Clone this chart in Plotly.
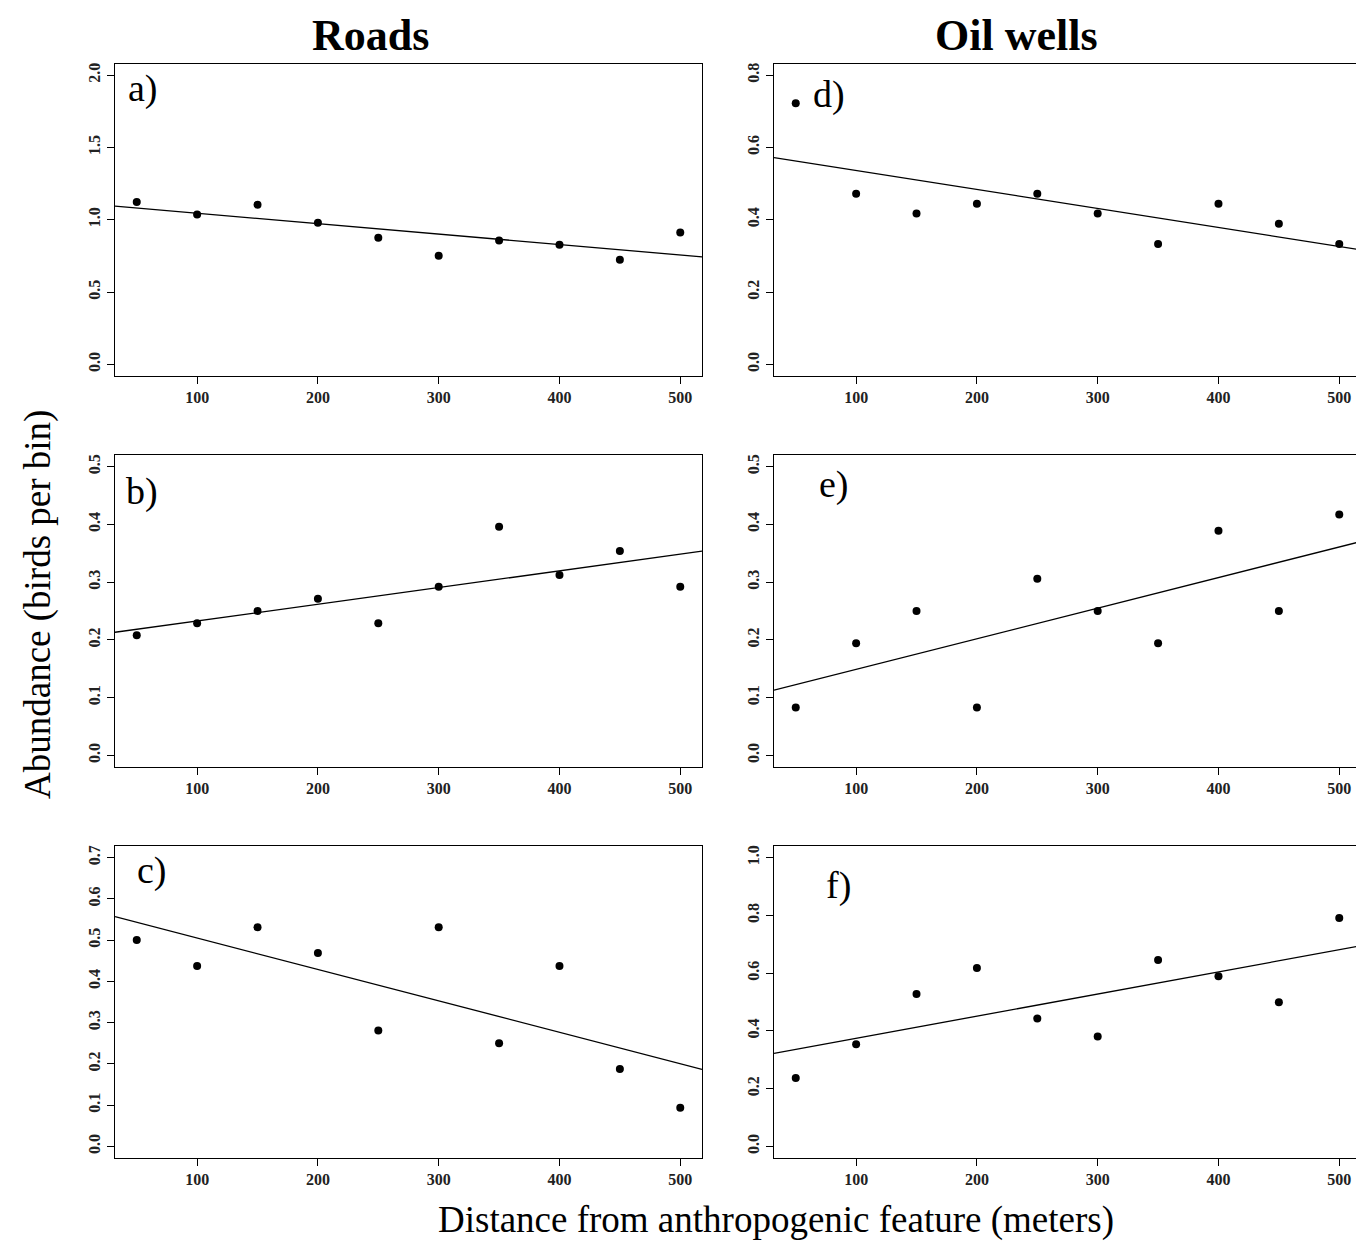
import numpy as np
import plotly.graph_objects as go

W, H = 1364, 1249

distance = [50, 100, 150, 200, 250, 300, 350, 400, 450, 500]

roads_a = [1.122, 1.037, 1.104, 0.979, 0.876, 0.751, 0.857, 0.827, 0.724, 0.912]
roads_b = [0.208, 0.229, 0.250, 0.271, 0.229, 0.292, 0.396, 0.3125, 0.354, 0.292]
roads_c = [0.500, 0.4375, 0.531, 0.469, 0.281, 0.531, 0.250, 0.4375, 0.1875, 0.094]
wells_d = [0.722, 0.472, 0.417, 0.444, 0.472, 0.417, 0.333, 0.444, 0.389, 0.333]
wells_e = [0.083, 0.194, 0.250, 0.083, 0.306, 0.250, 0.194, 0.389, 0.250, 0.417]
wells_f = [0.237, 0.354, 0.528, 0.618, 0.443, 0.381, 0.645, 0.589, 0.499, 0.791]

panel_labels = ["a)", "b)", "c)", "d)", "e)", "f)"]
ylims = [2.0, 0.5, 0.7, 0.8, 0.5, 1.0]
ydticks = [0.5, 0.1, 0.1, 0.2, 0.1, 0.2]
x_ticks = [100, 200, 300, 400, 500]
column_titles = ["Roads", "Oil wells"]
y_title = "Abundance (birds per bin)"
x_title = "Distance from anthropogenic feature (meters)"

series = [roads_a, roads_b, roads_c, wells_d, wells_e, wells_f]

# layout geometry (pixels)
col_x = [(107, 694), (766, 1353)]
row_y = [(55.5, 368), (447, 759), (838, 1150)]
label_pos = [(135, 80), (134, 483), (144, 862), (821, 86), (826, 476), (830, 877)]

def px_x(p):
    return p / W

def px_y(p):
    return 1 - p / H

xr0 = min(distance) - 0.04 * (max(distance) - min(distance))
xr1 = max(distance) + 0.04 * (max(distance) - min(distance))

FONT = "Liberation Serif, Times New Roman, serif"

fig = go.Figure()
layout = {}
annotations = []

for i, ys in enumerate(series):
    col = i // 3
    row = i % 3
    n = i + 1
    xa = "x" if n == 1 else f"x{n}"
    ya = "y" if n == 1 else f"y{n}"
    fig.add_trace(go.Scatter(
        x=distance, y=ys, mode="markers",
        marker=dict(color="black", size=8),
        xaxis=xa, yaxis=ya, showlegend=False))
    slope, icpt = np.polyfit(distance, ys, 1)
    lx = [xr0, xr1]
    ly = [icpt + slope * v for v in lx]
    fig.add_trace(go.Scatter(
        x=lx, y=ly, mode="lines",
        line=dict(color="black", width=1.3),
        xaxis=xa, yaxis=ya, showlegend=False))

    ylim = ylims[i]
    yr = [-0.04 * ylim, ylim * 1.04]
    yt = list(np.round(np.arange(0, ylim + 1e-9, ydticks[i]), 2))
    common = dict(showline=True, mirror=True, linecolor="black", linewidth=1.3,
                  ticks="outside", ticklen=7, tickwidth=1.2, tickcolor="black",
                  showgrid=False, zeroline=False,
                  tickfont=dict(family=FONT, size=16, color="#222", weight="bold"))
    layout["xaxis" if n == 1 else f"xaxis{n}"] = dict(
        domain=[px_x(col_x[col][0]), px_x(col_x[col][1])],
        anchor=ya, range=[xr0, xr1], tickvals=x_ticks,
        ticktext=[str(t) for t in x_ticks], **common)
    layout["yaxis" if n == 1 else f"yaxis{n}"] = dict(
        domain=[px_y(row_y[row][1]), px_y(row_y[row][0])],
        anchor=xa, range=yr, tickvals=yt,
        ticktext=[f"{t:.1f}" for t in yt], tickangle=-90, **common)

    lx_, ly_ = label_pos[i]
    annotations.append(dict(
        x=px_x(lx_), y=px_y(ly_), xref="paper", yref="paper",
        text=panel_labels[i], showarrow=False, xanchor="center", yanchor="middle",
        font=dict(family=FONT, size=38, color="black")))

annotations.append(dict(x=px_x(362), y=px_y(28), xref="paper", yref="paper",
                        text=f"<b>{column_titles[0]}</b>", showarrow=False,
                        xanchor="center", yanchor="middle",
                        font=dict(family=FONT, size=44, color="black")))
annotations.append(dict(x=px_x(1008), y=px_y(28), xref="paper", yref="paper",
                        text=f"<b>{column_titles[1]}</b>", showarrow=False,
                        xanchor="center", yanchor="middle",
                        font=dict(family=FONT, size=44, color="black")))
annotations.append(dict(x=px_x(30), y=px_y(597), xref="paper", yref="paper",
                        text=y_title, showarrow=False, textangle=-90,
                        xanchor="center", yanchor="middle",
                        font=dict(family=FONT, size=37, color="black")))
annotations.append(dict(x=px_x(768), y=px_y(1212), xref="paper", yref="paper",
                        text=x_title, showarrow=False,
                        xanchor="center", yanchor="middle",
                        font=dict(family=FONT, size=37, color="black")))

fig.update_layout(width=W, height=H, margin=dict(l=0, r=0, t=0, b=0),
                  paper_bgcolor="white", plot_bgcolor="white",
                  annotations=annotations, **layout)

fig.write_html("out.html")
